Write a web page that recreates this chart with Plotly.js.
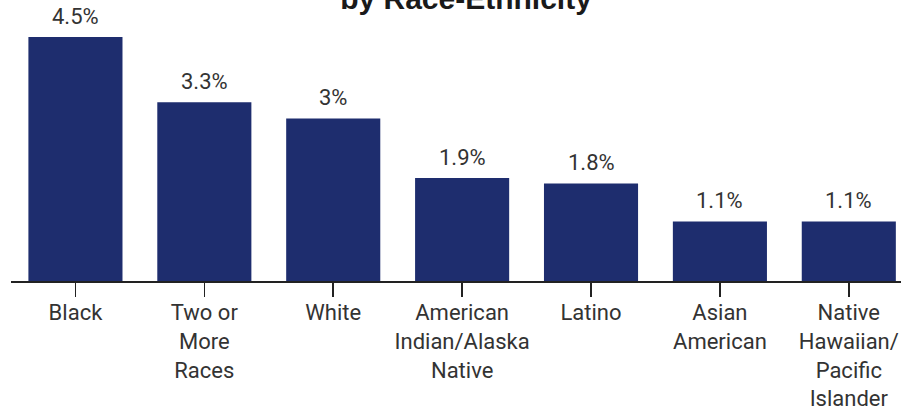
<!DOCTYPE html>
<html>
<head>
<meta charset="utf-8">
<script src="https://cdn.plot.ly/plotly-3.0.1.min.js"></script>
<style>html,body{margin:0;padding:0;background:#fff;}#chart{width:901px;height:415px;}</style>
</head>
<body>
<div id="chart"></div>
<script>
const categories = ["Black", "Two or<br>More<br>Races", "White", "American<br>Indian/Alaska<br>Native", "Latino", "Asian<br>American", "Native<br>Hawaiian/<br>Pacific<br>Islander"];
const values = [4.5, 3.3, 3, 1.9, 1.8, 1.1, 1.1];
const valueLabels = ["4.5%", "3.3%", "3%", "1.9%", "1.8%", "1.1%", "1.1%"];
const chartTitle = "by Race-Ethnicity";

const trace = {
  type: "bar",
  x: categories,
  y: values,
  marker: {color: "#1e2d6e"},
  hoverinfo: "none"
};

const annotations = categories.map((c, i) => ({
  x: c, y: values[i], xref: "x", yref: "y",
  text: valueLabels[i], showarrow: false,
  xanchor: "center", yanchor: "bottom", yshift: 6,
  font: {family: "Roboto, sans-serif", size: 22, color: "#333333"}
}));

const layout = {
  width: 901, height: 415,
  margin: {l: 11, r: 0, t: 10, b: 134},
  paper_bgcolor: "#ffffff",
  plot_bgcolor: "#ffffff",
  bargap: 0.27,
  showlegend: false,
  annotations: annotations,
  title: {
    text: chartTitle,
    font: {family: "Liberation Sans, Arial, sans-serif", size: 30, color: "#1a1a1a", weight: "bold"},
    x: 466/901, xanchor: "center",
    y: 1 - 9/415, yanchor: "bottom", yref: "container"
  },
  xaxis: {
    range: [-0.5, 6.405],
    showline: true, linecolor: "#222222", linewidth: 2,
    ticks: "outside", ticklen: 14, tickcolor: "#222222", tickwidth: 1.5,
    ticklabelstandoff: -3,
    tickfont: {family: "Roboto, sans-serif", size: 22, color: "#333333"},
    showgrid: false, zeroline: false, fixedrange: true
  },
  yaxis: {
    range: [0, 5],
    visible: false, showgrid: false, zeroline: false, fixedrange: true
  }
};

Plotly.newPlot("chart", [trace], layout, {staticPlot: true, displayModeBar: false});
</script>
</body>
</html>
